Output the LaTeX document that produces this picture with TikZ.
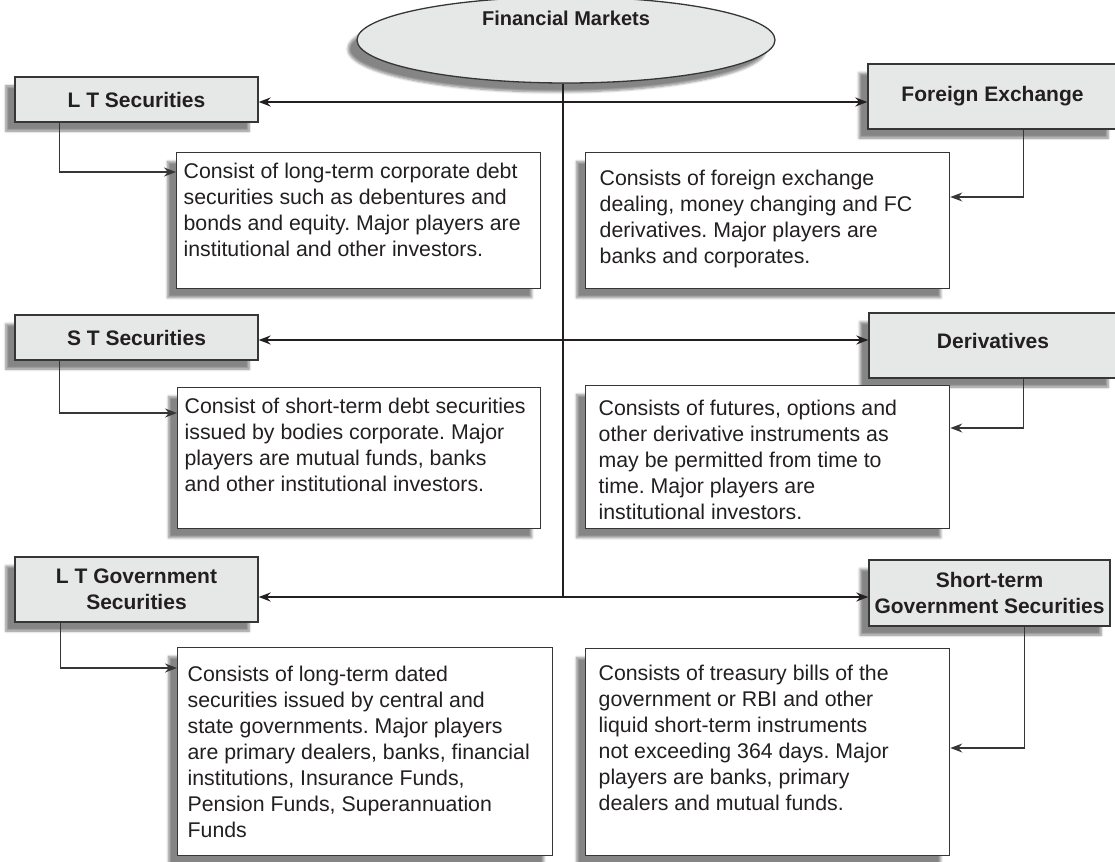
\documentclass[tikz,border=0pt]{standalone}
\usepackage{fontspec}
\setmainfont{Liberation Sans}
\usetikzlibrary{shapes.geometric,shadows.blur,arrows.meta}
\frenchspacing

\definecolor{ink}{HTML}{231F20}
\definecolor{boxfill}{HTML}{E6E7E7}
\definecolor{boxline}{HTML}{363636}

% top-aligned description text: width, height, top padding, text
\newcommand\descpar[4]{\parbox[c][#2pt][t]{#1pt}{\raggedright\vspace*{#3pt}\strut #4}}

\begin{document}
\begin{tikzpicture}[x=1pt, y=-1pt,
  boxshadow/.style={blur shadow={shadow xshift=-9pt, shadow yshift=-9pt,
    shadow blur radius=2.5pt, shadow blur steps=6, shadow opacity=48}},
  head/.style={draw=boxline, fill=boxfill, line width=1.3pt, text=ink, align=center,
    inner sep=0pt, font=\bfseries\fontsize{21}{26}\selectfont, boxshadow},
  desc/.style={draw=boxline, fill=white, line width=1.3pt, text=ink, inner ysep=0pt,
    anchor=north west, font=\fontsize{21.3}{26}\selectfont, boxshadow},
  tip/.tip={Stealth[length=12pt, width=9pt, inset=4pt]},
  trunk/.style={draw=ink, line width=2pt},
  feed/.style={draw=boxline, line width=1.3pt, -tip}]

\useasboundingbox (0,0) rectangle (1115,861);

% central ellipse
\node[ellipse, draw=boxline, fill=boxfill, line width=1.3pt, minimum width=418pt,
  minimum height=86pt, boxshadow] (fm) at (566,40) {};
\node[font=\bfseries\fontsize{20}{24}\selectfont, text=ink] (fmt) at (566,18) {Financial Markets};

% market headings
\node[head, minimum width=243pt, minimum height=45pt] (lt) at (136.5,99.5) {L T Securities};
\node[head, minimum width=243pt, minimum height=45pt] (st) at (136.5,337.5) {S T Securities};
\node[head, minimum width=243pt, minimum height=65pt] (ltg) at (136.5,589.5) {L T Government\\Securities};
\node[head, minimum width=249pt, minimum height=65pt] (fx) at (992.5,96.5) {Foreign Exchange};
\node[head, minimum width=248pt, minimum height=65pt] (der) at (993,345.5) {\raisebox{9pt}{Derivatives}};
\node[head, minimum width=241pt, minimum height=66pt] (stg) at (989.5,593) {Short-term\\Government Securities};

% descriptions
\node[desc, inner xsep=7pt] (ltd) at (176,152) {\descpar{350}{136}{7.5}{Consist of long-term corporate debt\\
securities such as debentures and\\bonds and equity. Major players are\\institutional and other investors.}};
\node[desc, inner xsep=14pt] (fxd) at (585,152) {\descpar{336}{136}{15}{Consists of foreign exchange\\
dealing, money changing and FC\\derivatives. Major players are\\banks and corporates.}};
\node[desc, inner xsep=7pt] (std) at (177,387) {\descpar{349}{141}{7.5}{Consist of short-term debt securities\\
issued by bodies corporate. Major\\players are mutual funds, banks\\and other institutional investors.}};
\node[desc, inner xsep=13pt] (derd) at (585,385) {\descpar{338}{143}{12}{Consists of futures, options and\\
other derivative instruments as\\may be permitted from time to\\time. Major players are\\institutional investors.}};
\node[desc, inner xsep=10pt] (ltgd) at (177,647) {\descpar{355}{208}{15.5}{Consists of long-term dated\\
securities issued by central and\\state governments. Major players\\are primary dealers, banks, financial\\
institutions, Insurance Funds,\\Pension Funds, Superannuation\\Funds}};
\node[desc, inner xsep=13pt] (stgd) at (585,648) {\descpar{338}{207}{13.5}{Consists of treasury bills of the\\
government or RBI and other\\liquid short-term instruments\\not exceeding 364 days. Major\\
players are banks, primary\\dealers and mutual funds.}};

% trunk and branches
\coordinate (r1) at (563,102);
\coordinate (r2) at (563,340);
\coordinate (r3) at (563,597);
\draw[trunk] (r1 |- fm.south) -- (r3);
\draw[trunk, tip-tip] (lt.east |- r1) -- (fx.west |- r1);
\draw[trunk, tip-tip] (st.east |- r2) -- (der.west |- r2);
\draw[trunk, tip-tip] (ltg.east |- r3) -- (stg.west |- r3);

% headings to descriptions
\draw[feed] ([xshift=45pt]lt.south west) |- ([yshift=-20pt]ltd.north west);
\draw[feed] ([xshift=45pt]st.south west) |- ([yshift=-26pt]std.north west);
\draw[feed] ([xshift=46pt]ltg.south west) |- ([yshift=-21pt]ltgd.north west);
\draw[feed] ([xshift=-94pt]fx.south east) |- ([yshift=-45pt]fxd.north east);
\draw[feed] ([xshift=-94pt]der.south east) |- ([yshift=-43pt]derd.north east);
\draw[feed] ([xshift=-86pt]stg.south east) |- ([yshift=-100pt]stgd.north east);
\end{tikzpicture}
\end{document}
